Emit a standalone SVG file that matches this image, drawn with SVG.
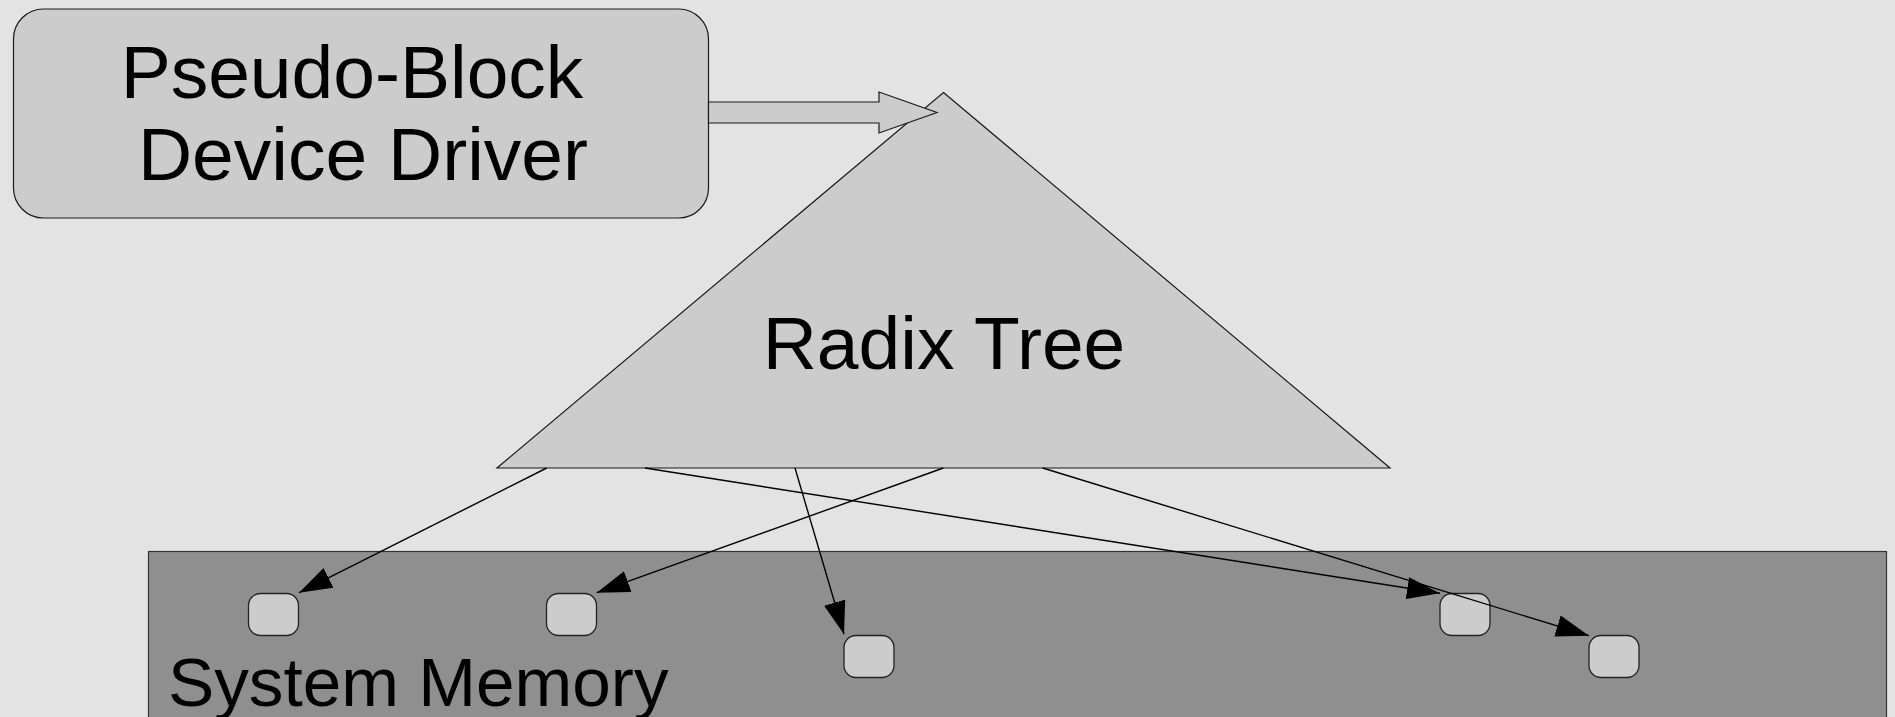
<svg xmlns="http://www.w3.org/2000/svg" width="1895" height="717" viewBox="0 0 1895 717">
  <style>
    .bg { fill: #e3e3e3; }
    .shape { fill: #cccccc; stroke: #1a1a1a; stroke-width: 1.2; }
    .mem { fill: #8f8f8f; stroke: #333333; stroke-width: 1.2; }
    .cell { fill: #cccccc; stroke: #222222; stroke-width: 1.3; }
    .label { font-family: "Liberation Sans", Arial, sans-serif; fill: #000000; }
    .link { fill: none; stroke: #000000; stroke-width: 1.4; }
  </style>
  <defs>
    <marker id="head" viewBox="0 0 33 22" refX="33" refY="11" markerWidth="33" markerHeight="22" markerUnits="userSpaceOnUse" orient="auto">
      <path d="M0,0 L33,11 L0,22 z" fill="#000000"/>
    </marker>
  </defs>

  <rect class="bg" x="0" y="0" width="1895" height="717"/>

  <!-- system memory region -->
  <g id="system-memory">
    <rect class="mem" x="148.5" y="551.5" width="1738" height="180"/>
    <text class="label" x="168" y="705.5" font-size="69.3">System Memory</text>
  </g>

  <!-- memory pages -->
  <g id="page-1"><rect class="cell" x="248.5" y="593.5" width="50" height="42" rx="12"/></g>
  <g id="page-2"><rect class="cell" x="546.5" y="593.5" width="50" height="42" rx="12"/></g>
  <g id="page-3"><rect class="cell" x="844" y="635.5" width="50" height="42" rx="12"/></g>
  <g id="page-4"><rect class="cell" x="1440" y="593.5" width="50" height="42" rx="12"/></g>
  <g id="page-5"><rect class="cell" x="1589" y="635.5" width="50" height="42" rx="12"/></g>

  <!-- radix tree -->
  <g id="radix-tree">
    <polygon class="shape" points="943.5,92.5 1390,468 497,468"/>
    <text class="label" x="944" y="369" font-size="75" text-anchor="middle">Radix Tree</text>
  </g>

  <!-- driver -->
  <g id="driver">
    <rect class="shape" x="13.5" y="9" width="695" height="209" rx="30"/>
    <text class="label" x="352" y="97.5" font-size="75" text-anchor="middle">Pseudo-Block</text>
    <text class="label" x="363" y="180" font-size="75" text-anchor="middle">Device Driver</text>
  </g>

  <!-- connectors -->
  <g id="connectors">
    <polygon class="shape" points="708.5,102 879,102 879,92 937,112.5 879,133 879,123 708.5,123"/>
    <line class="link" x1="546.7" y1="468" x2="299" y2="592.7" marker-end="url(#head)"/>
    <line class="link" x1="943.3" y1="468" x2="596.7" y2="592.7" marker-end="url(#head)"/>
    <line class="link" x1="795" y1="468" x2="844" y2="634.3" marker-end="url(#head)"/>
    <line class="link" x1="645" y1="468" x2="1440" y2="593.3" marker-end="url(#head)"/>
    <line class="link" x1="1042.7" y1="468" x2="1589" y2="635.7" marker-end="url(#head)"/>
  </g>
</svg>
